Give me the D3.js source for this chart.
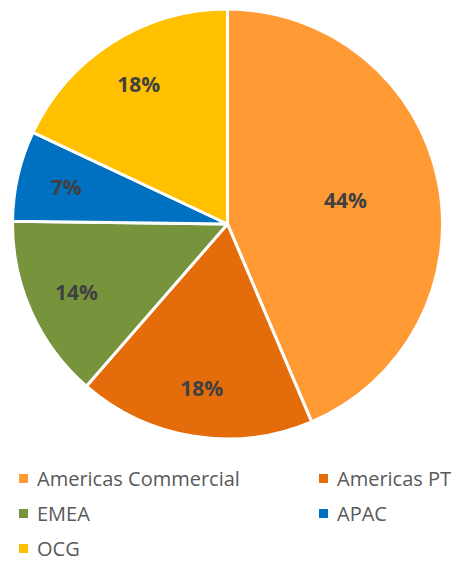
<!DOCTYPE html>
<html>
<head>
<meta charset="utf-8">
<script src="https://cdn.jsdelivr.net/npm/d3@7"></script>
<style>
  body { margin: 0; background: #ffffff; }
</style>
</head>
<body>
<script>
const regions = ["Americas Commercial", "Americas PT", "EMEA", "APAC", "OCG"]
const shares = [43.6, 17.8, 13.8, 6.8, 18.0]
const colors = ["#ff9a35", "#e46c0a", "#77933c", "#0070c0", "#ffc000"]

const width = 458
const height = 561
const cx = 227.5
const cy = 224
const radius = 215

var svg = d3.select("body").append("svg")
    .attr("width", width)
    .attr("height", height)

var data = regions.map((r, i) => ({ region: r, share: shares[i], color: colors[i] }))

var pie = d3.pie()
    .value(d => d.share)
    .sort(null)

var arc = d3.arc()
    .innerRadius(0)
    .outerRadius(radius)

var arcs = pie(data)

var g = svg.append("g")
    .attr("transform", "translate(" + cx + "," + cy + ")")

g.selectAll("path")
    .data(arcs)
    .enter().append("path")
    .attr("d", arc)
    .style("fill", d => d.data.color)
    .style("stroke", "#ffffff")
    .style("stroke-width", 3)
    .style("stroke-linejoin", "round")

// big slices get their label nearer the centre, like excel's best fit
function labelPos(d) {
    var mid = (d.startAngle + d.endAngle) / 2
    var r = (d.endAngle - d.startAngle) > Math.PI / 2 ? radius * 0.56 : radius * 0.77
    return [Math.sin(mid) * r, -Math.cos(mid) * r]
}

g.selectAll("text")
    .data(arcs)
    .enter().append("text")
    .attr("x", d => labelPos(d)[0])
    .attr("y", d => labelPos(d)[1])
    .attr("text-anchor", "middle")
    .attr("dominant-baseline", "central")
    .style("font-family", "'Open Sans', 'Liberation Sans', sans-serif")
    .style("font-weight", "bold")
    .style("font-size", "21px")
    .style("fill", "#404040")
    .text(d => d3.format(".0f")(d.data.share) + "%")

// legend, two columns
var legend = svg.append("g")
var item = legend.selectAll("g")
    .data(data)
    .enter().append("g")
    .attr("transform", (d, i) => "translate(" + (i % 2 ? 319 : 19) + "," + (486 + Math.floor(i / 2) * 35) + ")")

item.append("rect")
    .attr("x", 0)
    .attr("y", -12)
    .attr("width", 9)
    .attr("height", 9)
    .style("fill", d => d.color)

item.append("text")
    .attr("x", 18)
    .attr("y", 0)
    .style("font-family", "'Open Sans', 'Liberation Sans', sans-serif")
    .style("font-size", "20px")
    .style("fill", "#595959")
    .text(d => d.region)
</script>
</body>
</html>
